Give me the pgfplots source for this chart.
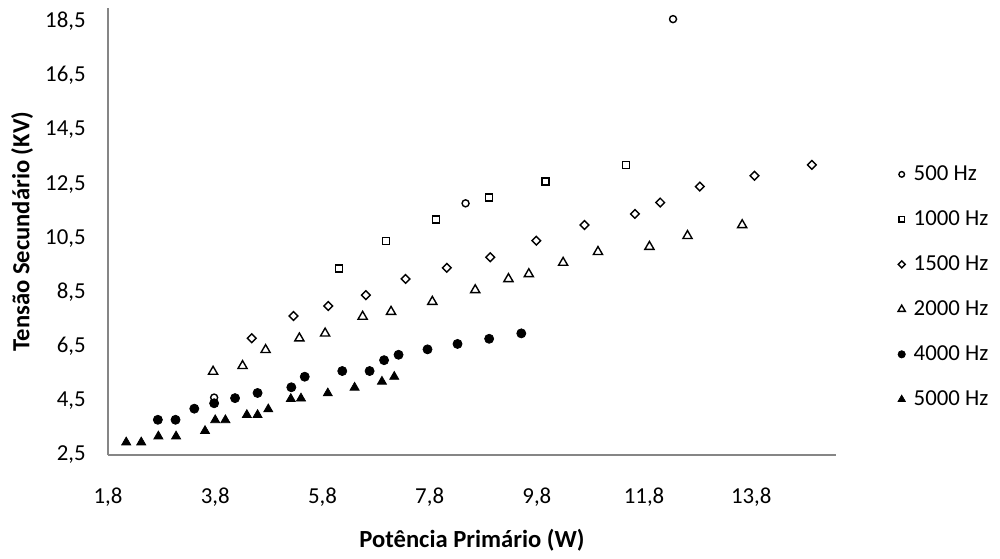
\documentclass[border=0pt]{standalone}
\usepackage{pgfplots}
\pgfplotsset{compat=1.18}
\usepackage{fontspec}
\setmainfont{Carlito}
\definecolor{axisgray}{RGB}{134,134,134}

\begin{document}
\begin{tikzpicture}
\path[use as bounding box] (-21.6mm,-20.6mm) rectangle (178.4mm,91mm);
\begin{axis}[
    at={(0,0)}, anchor=south west,
    scale only axis, width=145.6mm, height=89.4mm,
    xmin=1.8, xmax=15.38, ymin=2.5, ymax=19.0,
    clip=false,
    axis x line=bottom, axis y line=left,
    axis line style={-, draw=axisgray, line width=1pt},
    major tick length=0pt,
    xtick={1.8,3.8,5.8,7.8,9.8,11.8,13.8},
    ytick={2.5,4.5,6.5,8.5,10.5,12.5,14.5,16.5,18.5},
    tick label style={font=\fontsize{13}{15}\selectfont},
    /pgf/number format/.cd, fixed, fixed zerofill, precision=1, use comma, assume math mode=true,
    /pgfplots/.cd,
    xticklabel style={anchor=north, inner sep=0pt, yshift=-6.5mm},
    yticklabel style={anchor=east, inner sep=0pt, xshift=-4.4mm},
    xlabel={\bfseries Potência Primário (W)},
    ylabel={\bfseries Tensão Secundário (KV)},
    label style={font=\fontsize{14}{16}\selectfont},
    xlabel style={at={(axis description cs:0.5,-0.19)}, anchor=center},
    ylabel style={at={(axis description cs:-0.118,0.5)}, anchor=center, rotate=0},
    legend style={draw=none, fill=none, inner sep=0pt,
        at={(1.079,0.656)}, anchor=north west,
        row sep=4.1mm, font=\fontsize{13}{15}\selectfont,
        nodes={inner xsep=1.5pt}},
    legend cell align=left,
    legend image code/.code={\draw[mark repeat=2,mark phase=2,#1,every mark/.append style={scale=0.8}]
        plot coordinates {(0cm,0cm) (0.15cm,0cm) (0.3cm,0cm)};
        \path (0cm,0cm) (0.33cm,0cm);},
    every axis plot/.append style={only marks, black},
]
\addplot[mark=o, mark size=2pt, mark options={line width=0.8pt}] coordinates {
(3.78,4.62) (8.47,11.79) (12.34,18.59)};
\addlegendentry{500 Hz}
\addplot[mark=square, mark size=2pt, mark options={line width=0.8pt}] coordinates {
(6.11,9.39) (6.99,10.40) (7.92,11.20) (8.91,12.00) (9.96,12.59) (11.46,13.21)};
\addlegendentry{1000 Hz}
\addplot[mark=square, mark size=1.75pt, mark options={rotate=45, line width=0.8pt}] coordinates {
(4.48,6.81) (5.26,7.63) (5.91,8.00) (6.61,8.40) (7.35,9.00) (8.12,9.41) (8.93,9.80)
(9.79,10.41) (10.69,10.99) (11.63,11.40) (12.10,11.82) (12.84,12.41) (13.86,12.81) (14.93,13.21)};
\addlegendentry{1500 Hz}
\addplot[mark=triangle, mark size=3pt, mark options={line width=0.8pt}] coordinates {
(3.76,5.58) (4.31,5.79) (4.74,6.38) (5.37,6.81) (5.85,6.99) (6.55,7.61) (7.08,7.79)
(7.85,8.16) (8.65,8.59) (9.27,9.00) (9.65,9.18) (10.29,9.60) (10.94,10.00) (11.90,10.19)
(12.61,10.59) (13.63,10.99)};
\addlegendentry{2000 Hz}
\addplot[mark=*, mark size=2.6pt] coordinates {
(2.73,3.80) (3.06,3.80) (3.41,4.21) (3.78,4.41) (4.17,4.60) (4.59,4.79) (5.22,5.00)
(5.47,5.39) (6.17,5.60) (6.68,5.60) (6.95,6.00) (7.22,6.20) (7.76,6.40) (8.32,6.60)
(8.91,6.79) (9.51,6.99)};
\addlegendentry{4000 Hz}
\addplot[mark=triangle*, mark size=3pt] coordinates {
(2.14,2.97) (2.42,2.97) (2.74,3.19) (3.07,3.19) (3.61,3.39) (3.80,3.79) (3.99,3.79)
(4.39,3.98) (4.59,3.98) (4.79,4.19) (5.21,4.57) (5.40,4.59) (5.90,4.78) (6.40,4.99)
(6.91,5.21) (7.14,5.39)};
\addlegendentry{5000 Hz}
\end{axis}
\end{tikzpicture}
\end{document}
